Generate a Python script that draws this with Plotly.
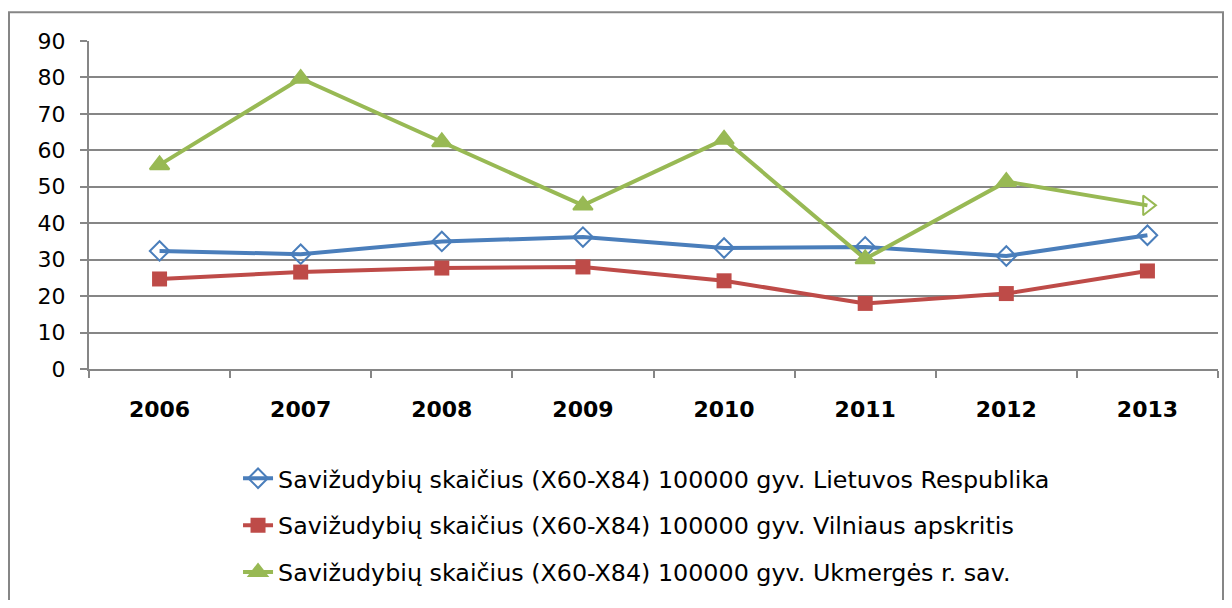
import plotly.graph_objects as go

years = ["2006", "2007", "2008", "2009", "2010", "2011", "2012", "2013"]
lietuva = [32.4, 31.5, 35.0, 36.2, 33.2, 33.5, 31.0, 36.7]
vilnius = [24.7, 26.6, 27.7, 28.0, 24.2, 18.0, 20.7, 26.9]
ukmerge = [56.0, 79.7, 62.3, 44.9, 63.0, 30.2, 51.4, 44.9]
names = [
    "Savižudybių skaičius (X60-X84) 100000 gyv. Lietuvos Respublika",
    "Savižudybių skaičius (X60-X84) 100000 gyv. Vilniaus apskritis",
    "Savižudybių skaičius (X60-X84) 100000 gyv. Ukmergės r. sav.",
]
y_ticks = [0, 10, 20, 30, 40, 50, 60, 70, 80, 90]

fig = go.Figure()
fig.add_trace(go.Scatter(
    x=years, y=lietuva, name=names[0], mode="lines+markers",
    line=dict(color="#4a7ebb", width=4),
    marker=dict(symbol="diamond-open", size=15, color="#4a7ebb", line=dict(width=2)),
    legendgroup="a",
))
fig.add_trace(go.Scatter(
    x=years, y=vilnius, name=names[1], mode="lines+markers",
    line=dict(color="#be4b48", width=4),
    marker=dict(symbol="square", size=15, color="#be4b48"),
    legendgroup="b",
))
fig.add_trace(go.Scatter(
    x=years, y=ukmerge, name=names[2], mode="lines+markers",
    line=dict(color="#98b954", width=4),
    marker=dict(symbol=["triangle-up"] * 7 + ["triangle-right-open"], size=17,
                color="#98b954", line=dict(width=2, color="#98b954")),
    legendgroup="c",
))

# page body has an 8px margin on every side, so the figure is 16px smaller than the window
W, H = 1216, 592
L, R, T, B = 81, 6, 33, 228
pw = W - L - R
ph = H - T - B

fig.update_layout(
    width=W, height=H,
    margin=dict(l=L, r=R, t=T, b=B),
    paper_bgcolor="white", plot_bgcolor="white",
    font=dict(family="DejaVu Sans", color="black"),
    showlegend=True,
    legend=dict(
        x=0.132, y=-0.266, xanchor="left", yanchor="top",
        font=dict(size=23.8, family="DejaVu Sans"),
        tracegroupgap=13, traceorder="grouped",
        bgcolor="rgba(0,0,0,0)",
    ),
    xaxis=dict(
        type="category", showgrid=False, showline=True, linecolor="#868686", linewidth=2,
        ticks="outside", tickcolor="#868686", ticklen=7, tickwidth=2,
        tickson="boundaries", ticklabelstandoff=20,
        tickfont=dict(size=22, family="DejaVu Sans", color="black", weight="bold"),
        range=[-0.5, 7.5],
    ),
    yaxis=dict(
        range=[0, 90], tickvals=y_ticks, showgrid=True, gridcolor="#868686", gridwidth=2,
        showline=True, linecolor="#868686", linewidth=2,
        ticks="outside", tickcolor="#868686", ticklen=7, tickwidth=2,
        ticklabelstandoff=10,
        tickfont=dict(size=22, family="DejaVu Sans", color="black"),
        zeroline=False,
    ),
    shapes=[dict(
        type="rect", xref="paper", yref="paper",
        x0=(1 - L) / pw, x1=(1215 - L) / pw,
        y0=(H - 600 - B) / ph, y1=(H - 4 - B) / ph,
        line=dict(color="#868686", width=2), fillcolor="rgba(0,0,0,0)", layer="below",
    )],
)

fig.write_html("out.html")
